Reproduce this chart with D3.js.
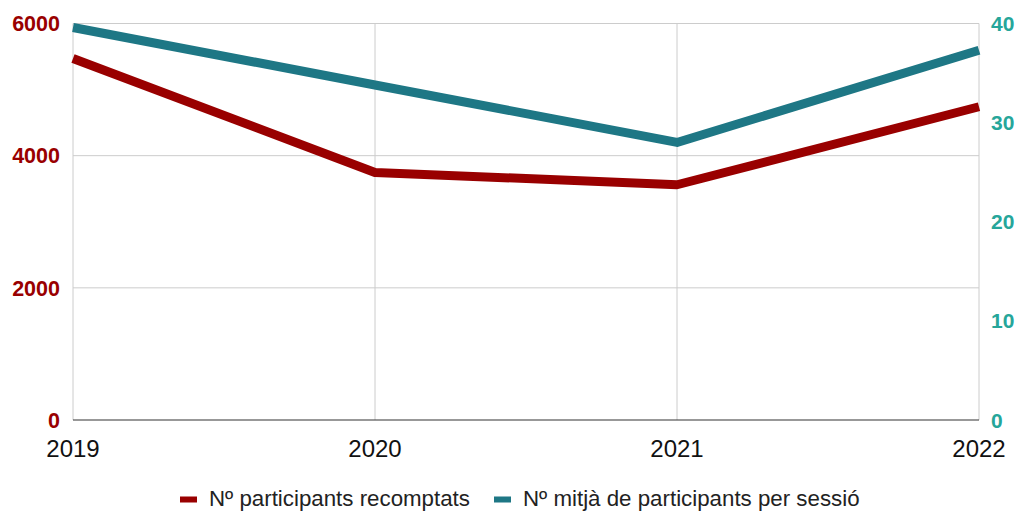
<!DOCTYPE html>
<html><head><meta charset="utf-8">
<script src="https://cdn.jsdelivr.net/npm/d3@7"></script>
<style>body{margin:0;background:#fff;} svg{display:block;font-family:"Liberation Sans",Arial,sans-serif;}</style>
</head><body><svg id="c" width="1017" height="511"></svg>
<script>
const years = ["2019","2020","2021","2022"];
const participants = [5470, 3746, 3560, 4740];
const avgPerSession = [39.6, 33.8, 28.0, 37.3];
const leftTicks = [0, 2000, 4000, 6000];
const rightTicks = [0, 10, 20, 30, 40];
const seriesNames = ["Nº participants recomptats", "Nº mitjà de participants per sessió"];

const red = "#990000", teal = "#1e7785", tealLabel = "#26a69a";
const svg = d3.select("#c");
const m = {l:73, r:979, t:23.5, b:420};
const x = d3.scalePoint().domain(years).range([m.l, m.r]);
const yL = d3.scaleLinear().domain([0,6000]).range([m.b, m.t]);
const yR = d3.scaleLinear().domain([0,40]).range([m.b, m.t]);

// gridlines
svg.append("g").selectAll("line").data(leftTicks.filter(d=>d>0)).join("line")
  .attr("x1", m.l).attr("x2", m.r).attr("y1", d=>yL(d)).attr("y2", d=>yL(d))
  .attr("stroke", "#cccccc").attr("stroke-width", 1);
svg.append("g").selectAll("line").data(years).join("line")
  .attr("x1", d=>x(d)).attr("x2", d=>x(d)).attr("y1", m.t).attr("y2", m.b)
  .attr("stroke", "#cccccc").attr("stroke-width", 1);
// baseline
svg.append("line").attr("x1", m.l).attr("x2", m.r).attr("y1", m.b).attr("y2", m.b)
  .attr("stroke", "#333333").attr("stroke-width", 1.2);

// left axis labels
svg.append("g").selectAll("text").data(leftTicks).join("text")
  .attr("x", 60).attr("y", d=>yL(d)).attr("dy", "0.36em")
  .attr("text-anchor", "end").attr("fill", red).attr("font-weight", "bold")
  .attr("font-size", 21.5).text(d=>d);
// right axis labels
svg.append("g").selectAll("text").data(rightTicks).join("text")
  .attr("x", 991).attr("y", d=>yR(d)).attr("dy", "0.36em")
  .attr("text-anchor", "start").attr("fill", tealLabel).attr("font-weight", "bold")
  .attr("font-size", 21).text(d=>d);
// x labels
svg.append("g").selectAll("text").data(years).join("text")
  .attr("x", d=>x(d)).attr("y", 457)
  .attr("text-anchor", "middle").attr("fill", "#111").attr("font-size", 24).text(d=>d);

// lines
const lineL = d3.line().x((d,i)=>x(years[i])).y(d=>yL(d));
const lineR = d3.line().x((d,i)=>x(years[i])).y(d=>yR(d));
svg.append("path").attr("d", lineL(participants)).attr("fill","none")
  .attr("stroke", red).attr("stroke-width", 9).attr("stroke-linejoin","round");
svg.append("path").attr("d", lineR(avgPerSession)).attr("fill","none")
  .attr("stroke", teal).attr("stroke-width", 9).attr("stroke-linejoin","round");

// legend
const lg = svg.append("g");
const items = [{n:seriesNames[0], c:red, x:180},{n:seriesNames[1], c:teal, x:494}];
items.forEach(it=>{
  lg.append("rect").attr("x", it.x).attr("y", 496.5).attr("width", 17).attr("height", 6).attr("fill", it.c);
  lg.append("text").attr("x", it.x+29).attr("y", 506)
    .attr("font-size", 22.3).attr("fill", "#222").text(it.n);
});
</script></body></html>
